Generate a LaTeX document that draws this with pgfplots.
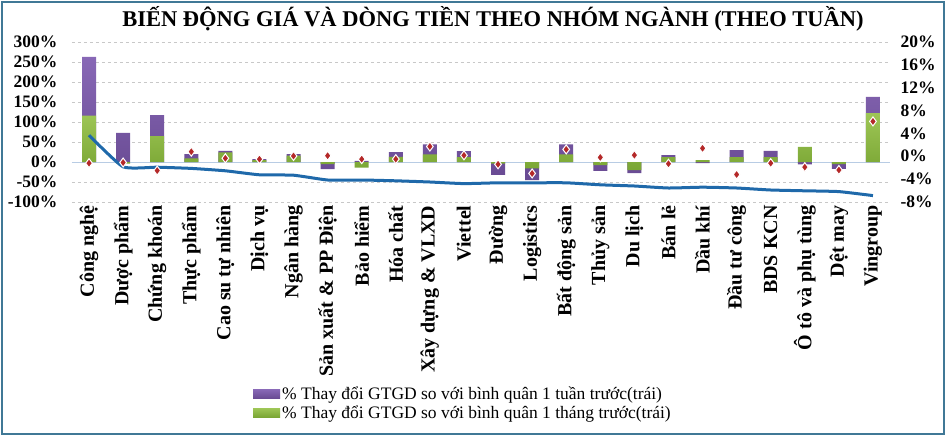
\documentclass[border=0pt]{standalone}
\usepackage{fontspec}
\setmainfont{Liberation Serif}
\usepackage{pgfplots}
\pgfplotsset{compat=1.18}
\usepackage{pgfplotstable}

\definecolor{purpL}{RGB}{136,104,182}
\definecolor{purpD}{RGB}{104,74,146}
\definecolor{grnL}{RGB}{158,198,86}
\definecolor{grnD}{RGB}{122,166,52}
\definecolor{lineblue}{RGB}{31,105,170}
\definecolor{dia}{RGB}{180,40,40}
\definecolor{framec}{RGB}{64,120,150}
\definecolor{gridc}{RGB}{200,200,200}
\definecolor{zeroc}{RGB}{184,204,228}

\newcommand\tickfont{\fontsize{17.5bp}{20bp}\selectfont\bfseries}
\newcommand\catfont{\fontsize{20bp}{22bp}\selectfont\bfseries}
\newcommand\legfont{\fontsize{17.5bp}{22bp}\selectfont}

\pgfplotstableread[col sep=comma]{
x,wk,mo,flow,price
0,263,116,67,-1.2
1,73,-4,-12,-1.1
2,117,65,-13,-2.5
3,20,9,-16,0.8
4,28,24,-22,-0.35
5,7,5,-32,-0.5
6,20,16,-33,0.05
7,-18,-5,-45,0.1
8,3,-14,-45,-0.5
9,25,13,-47,-0.5
10,44,19,-50,1.7
11,27,12,-54,0.17
12,-32,-4,-52,-1.4
13,-45,-16,-52,-3.0
14,44,19,-52,1.2
15,-22,-8,-57,-0.2
16,-28,-20,-60,0.2
17,17,12,-65,-1.3
18,-3,5,-63,1.4
19,30,12,-65,-3.2
20,28,12,-70,-1.2
21,-6,38,-72,-1.9
22,-17,-5,-74,-2.4
23,163,122,-84,6.1
}\data

\begin{document}
\begin{tikzpicture}
\path[use as bounding box] (-72bp,-235bp) rectangle (876bp,202bp);
\draw[framec, line width=1.2bp] (-70bp,-232bp) rectangle (872bp,200bp);
\node[font=\fontsize{22.5bp}{24bp}\selectfont\bfseries] at (421bp,183bp) {BIẾN ĐỘNG GIÁ VÀ DÒNG TIỀN THEO NHÓM NGÀNH (THEO TUẦN)};

\begin{axis}[
  at={(0,0)}, anchor=south west,
  scale only axis, width=818bp, height=160bp,
  xmin=-0.5, xmax=23.5, ymin=-100, ymax=300,
  ytick={-100,-50,0,50,100,150,200,250,300},
  yticklabels={-100\%,-50\%,0\%,50\%,100\%,150\%,200\%,250\%,300\%},
  xtick={0,...,23},
  xticklabels={Công nghệ,Dược phẩm,Chứng khoán,Thực phẩm,Cao su tự nhiên,Dịch vụ,Ngân hàng,Sản xuất \& PP Điện,Bảo hiểm,Hóa chất,Xây dựng \& VLXD,Viettel,Đường,Logistics,Bất động sản,Thủy sản,Du lịch,Bán lẻ,Dầu khí,Đầu tư công,BDS KCN,Ô tô và phụ tùng,Dệt may,Vingroup},
  xticklabel style={rotate=90, anchor=east, font=\catfont},
  yticklabel style={font=\tickfont, xshift=-11bp},
  major tick length=0pt,
  axis line style={draw=none},
  ymajorgrids, major grid style={gridc, dashed, line width=0.6bp},
  extra y ticks={0}, extra y tick labels={},
  extra y tick style={ymajorgrids=true, major grid style={zeroc, solid, line width=1bp}},
  legend style={at={(0.2176,-1.13)}, anchor=north west, draw=none, fill=none, font=\legfont, row sep=0.5bp},
  legend cell align=left,
  legend image code/.code={\path[#1,draw=none] (0bp,-4.5bp) rectangle (27bp,4.5bp);},
]
\addplot[ybar, bar width=14bp, bar shift=0pt, top color=purpL, bottom color=purpD, draw=none] table[x=x,y=wk]{\data};
\addlegendentry{\% Thay đổi GTGD so với bình quân 1 tuần trước(trái)}
\addplot[ybar, bar width=14bp, bar shift=0pt, top color=grnL, bottom color=grnD, draw=none] table[x=x,y=mo]{\data};
\addlegendentry{\% Thay đổi GTGD so với bình quân 1 tháng trước(trái)}
\addplot[lineblue, line width=3bp, smooth, tension=0.3, no markers, forget plot] table[x=x,y=flow]{\data};
\end{axis}

\begin{axis}[
  at={(0,0)}, anchor=south west,
  scale only axis, width=818bp, height=160bp,
  xmin=-0.5, xmax=23.5, ymin=-8, ymax=20,
  axis x line=none, axis y line*=right,
  axis line style={draw=none},
  major tick length=0pt,
  ytick={-8,-4,0,4,8,12,16,20},
  yticklabels={-8\%,-4\%,0\%,4\%,8\%,12\%,16\%,20\%},
  yticklabel style={font=\tickfont, xshift=7bp},
]
\addplot[only marks, mark=diamond*, mark size=4.5bp, mark options={fill=dia, draw=white, line width=1bp}] table[x=x,y=price]{\data};
\end{axis}
\end{tikzpicture}
\end{document}
